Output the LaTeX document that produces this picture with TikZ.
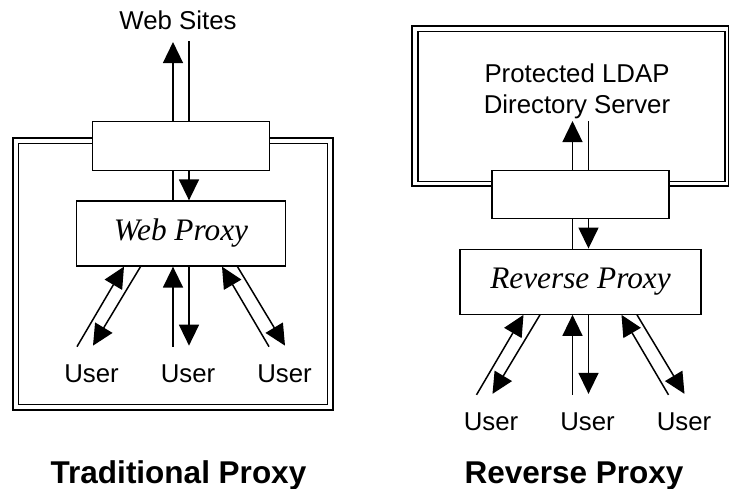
\documentclass[tikz,border=0pt]{standalone}
\usepackage{fontspec}
\setmainfont{Liberation Sans}
\newfontfamily\proxyfont{Liberation Serif}
\usetikzlibrary{arrows.meta}

\tikzset{
  box/.style={draw, fill=white, line width=1.3pt, inner sep=0pt},
  link/.style={line width=1.5pt},
  arr/.style={link, -{Triangle[length=21pt, width=20pt]}},
  lbl/.style={font=\fontsize{25.8}{31}\selectfont, inner sep=0pt},
  heading/.style={font=\fontsize{31.5}{36}\selectfont\bfseries, inner sep=0pt},
  proxytext/.style={font=\fontsize{31.3}{36}\selectfont\proxyfont\itshape}
}

\begin{document}
\begin{tikzpicture}[x=1pt, y=-1pt]
\useasboundingbox (0,0) rectangle (729,489);

% traditional proxy
\draw[line width=2.4pt] (13,138) rectangle (333,410);
\draw[line width=1.9pt] (18.5,143.5) rectangle (327.5,404.5);
\node[box, minimum width=177, minimum height=49] (fwL) at (181,146.2) {};
\node[box, proxytext, minimum width=209, minimum height=65] (proxyL) at (181,233.5) {Web Proxy};
\node[lbl, anchor=base] (sites) at (178,30) {Web Sites};
\draw[arr] ([xshift=-8]fwL.north) -- ++(0,-79);
\draw[link] ([xshift=8]fwL.north) -- ++(0,-80);
\node[heading, anchor=base] (tradL) at (178.5,483) {Traditional Proxy};

% reverse proxy
\draw[line width=2.4pt] (412,26.3) rectangle (729.5,186);
\draw[line width=1.9pt] (417.7,31.5) rectangle (725,181.5);
\node[lbl, align=center] (ldap) at (577,91) {Protected LDAP\\Directory Server};
\node[box, minimum width=177, minimum height=48] (fwR) at (580.5,194.2) {};
\node[box, proxytext, minimum width=241, minimum height=65] (proxyR) at (580.5,281.7) {Reverse Proxy};
\draw[arr] ([xshift=-8]fwR.north) -- ++(0,-48.5);
\draw[link] ([xshift=8]fwR.north) -- ++(0,-48.5);
\node[heading, anchor=base] (revR) at (574,483) {Reverse Proxy};

% firewall to proxy, proxy to users
\foreach \s in {L,R} {
  \draw[link] ([xshift=-8]fw\s.south) -- ([xshift=-8]proxy\s.north);
  \draw[arr] ([xshift=8]fw\s.south) -- ([xshift=8]proxy\s.north);
  \draw[arr] ([shift={(-104,80)}]proxy\s.south) -- ([xshift=-57]proxy\s.south);
  \draw[arr] ([xshift=-40.5]proxy\s.south) -- ([shift={(-88,79)}]proxy\s.south);
  \draw[arr] ([shift={(-8,80)}]proxy\s.south) -- ([xshift=-8]proxy\s.south);
  \draw[arr] ([xshift=8]proxy\s.south) -- ([shift={(8,79)}]proxy\s.south);
  \draw[arr] ([shift={(88,80)}]proxy\s.south) -- ([xshift=41]proxy\s.south);
  \draw[arr] ([xshift=56.5]proxy\s.south) -- ([shift={(104,79)}]proxy\s.south);
  \foreach \dx [count=\i] in {-89.5,7,103.5}
    \node[lbl, anchor=base] (user\s\i) at ([shift={(\dx,116)}]proxy\s.south) {User};
}
\end{tikzpicture}
\end{document}
